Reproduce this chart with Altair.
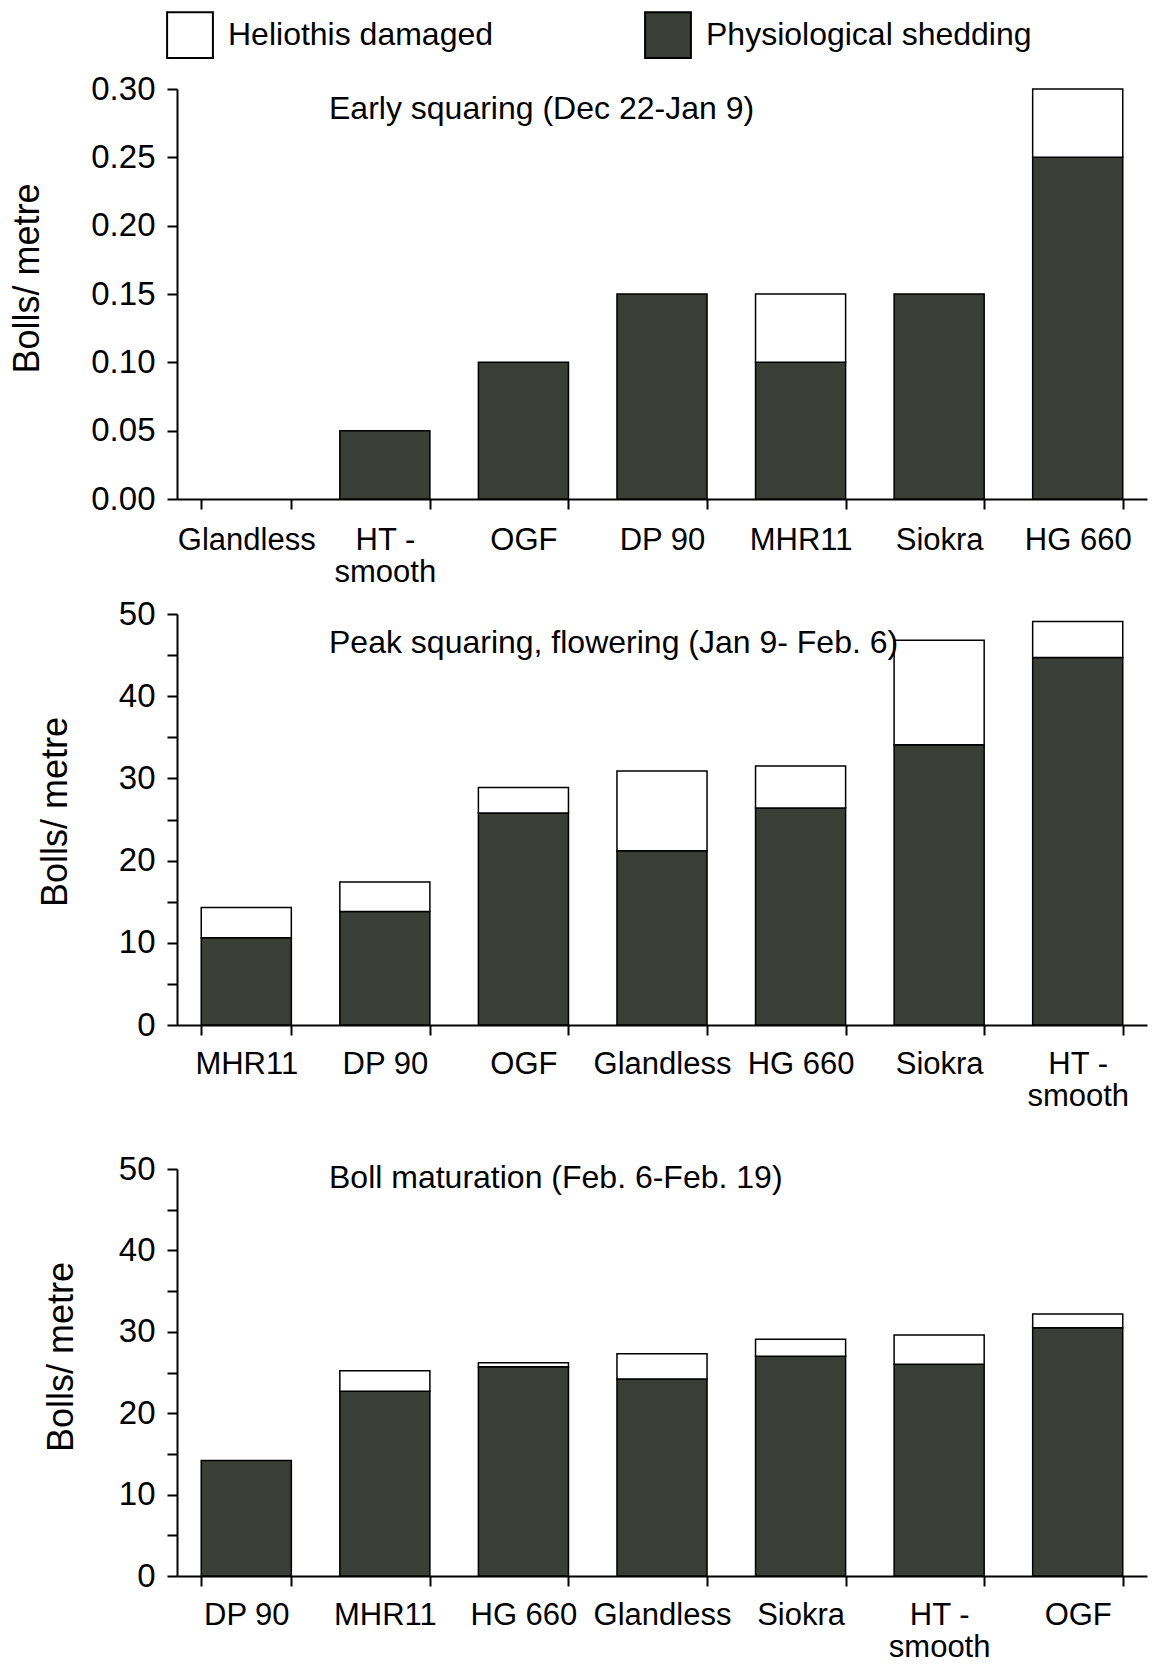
import altair as alt
import pandas as pd

SERIES = ["Heliothis damaged", "Physiological shedding"]
COLORS = ["#ffffff", "#3b3e37"]

p1_varieties = ["Glandless", "HT - smooth", "OGF", "DP 90", "MHR11", "Siokra", "HG 660"]
p1_physio = [0.0, 0.05, 0.10, 0.15, 0.10, 0.15, 0.25]
p1_helio = [0.0, 0.0, 0.0, 0.0, 0.05, 0.0, 0.05]
p1_ticks = [0.0, 0.05, 0.10, 0.15, 0.20, 0.25, 0.30]

p2_varieties = ["MHR11", "DP 90", "OGF", "Glandless", "HG 660", "Siokra", "HT - smooth"]
p2_physio = [10.6, 13.8, 25.8, 21.2, 26.4, 34.1, 44.7]
p2_helio = [3.7, 3.6, 3.1, 9.7, 5.1, 12.7, 4.4]

p3_varieties = ["DP 90", "MHR11", "HG 660", "Glandless", "Siokra", "HT - smooth", "OGF"]
p3_physio = [14.2, 22.7, 25.7, 24.2, 27.0, 26.0, 30.5]
p3_helio = [0.0, 2.5, 0.5, 3.1, 2.1, 3.6, 1.7]

count_ticks = [0, 5, 10, 15, 20, 25, 30, 35, 40, 45, 50]

titles = [
    "Early squaring (Dec 22-Jan 9)",
    "Peak squaring, flowering (Jan 9- Feb. 6)",
    "Boll maturation (Feb. 6-Feb. 19)",
]

FONT = "Liberation Sans"


def panel(varieties, physio, helio, ymax, ticks, fmt, label_expr, title, title_dy, height,
          title_pad, label_pad_x, ytitle_shift):
    rows = []
    for v, p, h in zip(varieties, physio, helio):
        if p > 0:
            rows.append({"Variety": v, "Type": SERIES[1], "Value": p, "ord": 0})
        if h > 0:
            rows.append({"Variety": v, "Type": SERIES[0], "Value": h, "ord": 1})
    df = pd.DataFrame(rows)

    yaxis_kwargs = dict(
        title="Bolls/ metre",
        values=ticks,
        tickSize=10,
        labelPadding=12,
        labelFontSize=33,
        titlePadding=title_pad,
        titleFontSize=36,
        titleY=height / 2 - ytitle_shift,
    )
    if fmt:
        yaxis_kwargs["format"] = fmt
    if label_expr:
        yaxis_kwargs["labelExpr"] = label_expr

    legend = alt.Legend(
        title=None,
        orient="none",
        legendX=-11,
        legendY=-78,
        direction="horizontal",
        symbolType="square",
        symbolSize=2100,
        symbolStrokeColor="black",
        symbolStrokeWidth=2,
        labelFontSize=32,
        labelFont=FONT,
        labelColor="black",
        labelOffset=14,
        labelLimit=0,
        columnPadding=147,
        padding=0,
    )

    bars = alt.Chart(df).mark_bar(stroke="black", strokeWidth=1.5).encode(
        x=alt.X(
            "Variety:N",
            sort=varieties,
            scale=alt.Scale(domain=varieties, paddingInner=0.35, paddingOuter=0.175),
            axis=alt.Axis(
                title=None,
                labelAngle=0,
                tickBand="extent",
                tickSize=10,
                labelPadding=label_pad_x,
                labelFontSize=31,
                labelLineHeight=32,
                labelExpr="datum.label == 'HT - smooth' ? ['HT -', 'smooth'] : datum.label",
            ),
        ),
        y=alt.Y(
            "Value:Q",
            stack="zero",
            scale=alt.Scale(domain=[0, ymax], nice=False, zero=True),
            axis=alt.Axis(**yaxis_kwargs),
        ),
        color=alt.Color(
            "Type:N",
            scale=alt.Scale(domain=SERIES, range=COLORS),
            legend=legend,
        ),
        order=alt.Order("ord:Q"),
    )

    label = alt.Chart(pd.DataFrame({"t": [title]})).mark_text(
        align="left", baseline="middle", fontSize=32, font=FONT, color="black"
    ).encode(text="t:N", x=alt.value(152), y=alt.value(title_dy))

    return alt.layer(bars, label).properties(width=970, height=height)


c1 = panel(p1_varieties, p1_physio, p1_helio, 0.30, p1_ticks, ".2f", None, titles[0], 20, 410, 44, 16, 16)
c2 = panel(p2_varieties, p2_physio, p2_helio, 50, count_ticks, None,
           "datum.value % 10 == 0 ? datum.label : ''", titles[1], 29, 411, 44, 14, 8)
c3 = panel(p3_varieties, p3_physio, p3_helio, 50, count_ticks, None,
           "datum.value % 10 == 0 ? datum.label : ''", titles[2], 9, 407, 38, 14, 16)

inner = alt.vconcat(c1, c2, spacing=11).resolve_scale(x="independent", y="independent", color="shared")
chart = alt.vconcat(inner, c3, spacing=42).resolve_scale(
    x="independent", y="independent", color="shared"
).properties(
    padding={"left": 9, "top": 11, "right": 4, "bottom": 0},
    background="white",
).configure_view(stroke=None).configure_axis(
    grid=False,
    domainColor="black",
    domainWidth=2,
    tickColor="black",
    tickWidth=2,
    labelColor="black",
    titleColor="black",
    labelFont=FONT,
    titleFont=FONT,
    titleFontWeight="normal",
)

chart.save("out.html", embed_options={"renderer": "svg", "actions": False})
